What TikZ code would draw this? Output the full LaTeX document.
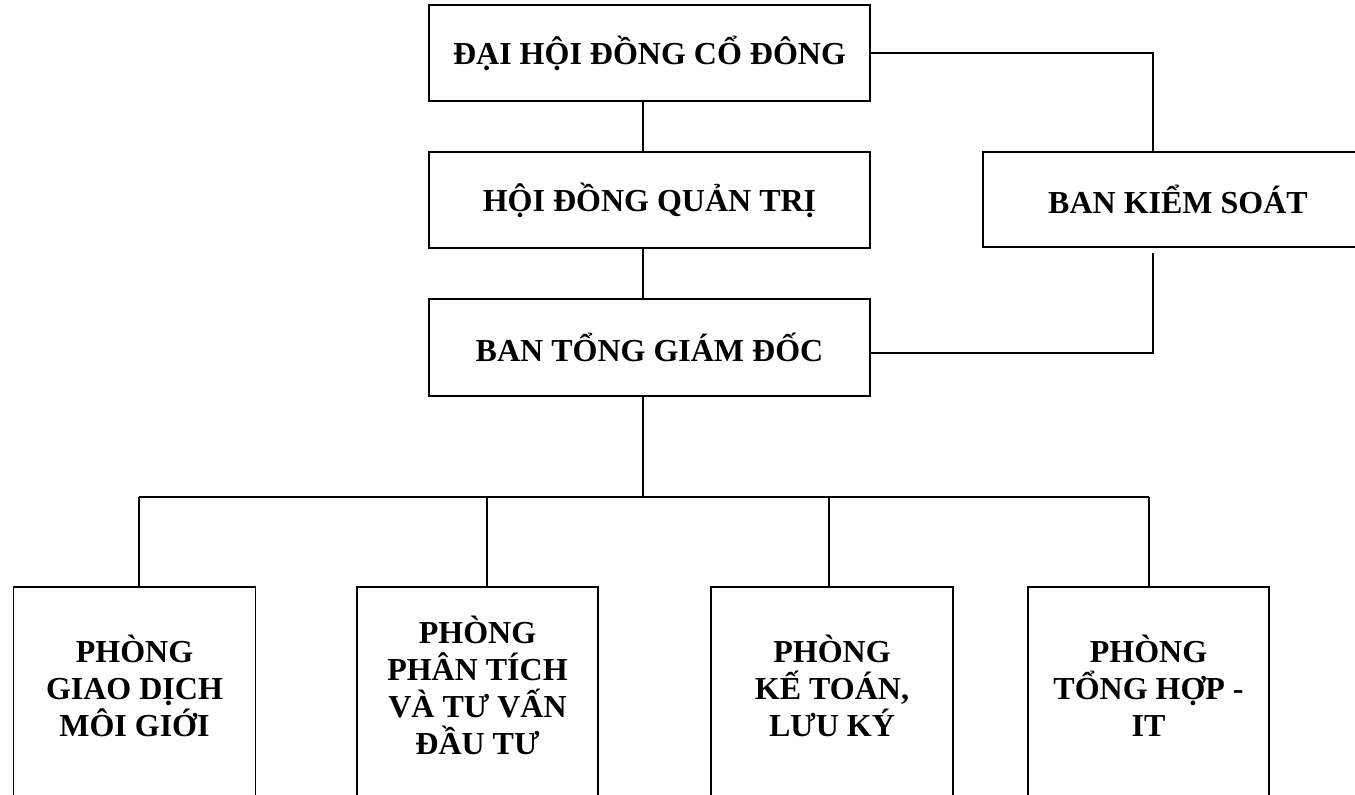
\documentclass[tikz,border=0pt]{standalone}
\usepackage{fontspec}
\setmainfont{Liberation Serif}
\begin{document}
\begin{tikzpicture}[x=0.75pt,y=-0.75pt,
  box/.style={draw=black, line width=1.4pt, fill=white, align=center, inner sep=0pt,
    font=\fontsize{24}{27.75}\selectfont\bfseries},
  topbox/.style={box, minimum width=330.75pt, minimum height=72pt},
  lowbox/.style={box, minimum width=181.5pt, minimum height=159.75pt},
  lowtext/.style={align=center, inner sep=0pt, font=\fontsize{24}{27.75}\selectfont\bfseries},
  link/.style={draw=black, line width=1.4pt}]
\useasboundingbox (0,0) rectangle (1355,794);
\clip (0,0) rectangle (1355,794);
\fill[white] (0,0) rectangle (1355,794);

\node[topbox] (dh) at (649.5,53) {ĐẠI HỘI ĐỒNG CỔ ĐÔNG};
\node[topbox] (hdqt) at (649.5,200) {HỘI ĐỒNG QUẢN TRỊ};
\node[topbox, minimum height=72.75pt] (btgd) at (649.5,347.5) {BAN TỔNG GIÁM ĐỐC};
\node[box, minimum width=292.5pt, minimum height=71.25pt] (bks) at (1178,199.5) {BAN KIỂM SOÁT};

\node[lowbox] (pa) at (134.5,693.5) {};
\node[lowbox, minimum width=180.75pt] (pb) at (477.5,693.5) {};
\node[lowbox] (pc) at (832,693.5) {};
\node[lowbox, minimum width=180.75pt] (pd) at (1148.5,693.5) {};

\node[lowtext] (pat) at (134.5,686) {PHÒNG\\GIAO DỊCH\\MÔI GIỚI};
\node[lowtext] (pbt) at (477.5,685) {PHÒNG\\PHÂN TÍCH\\VÀ TƯ VẤN\\ĐẦU TƯ};
\node[lowtext] (pct) at (832,686) {PHÒNG\\KẾ TOÁN,\\LƯU KÝ};
\node[lowtext] (pdt) at (1148.5,686) {PHÒNG\\TỔNG HỢP -\\IT};

\coordinate (sp) at (643,497);
\coordinate (k) at (1153,353);
\coordinate (xa) at (139,497);
\coordinate (xb) at (487,497);
\coordinate (xc) at (829,497);
\coordinate (xd) at (1149,497);

\draw[link] (dh.south -| sp) -- (hdqt.north -| sp);
\draw[link] (hdqt.south -| sp) -- (btgd.north -| sp);
\draw[link] (btgd.south -| sp) -- (sp);
\draw[link] (xa) -- (xd);
\draw[link] (xa) -- (pa.north -| xa);
\draw[link] (xb) -- (pb.north -| xb);
\draw[link] (xc) -- (pc.north -| xc);
\draw[link] (xd) -- (pd.north -| xd);
\draw[link] (dh.east) -| (bks.north -| k);
\draw[link] ([yshift=-3.75pt]bks.south -| k) -- (k) -- (btgd.east |- k);
\end{tikzpicture}
\end{document}
